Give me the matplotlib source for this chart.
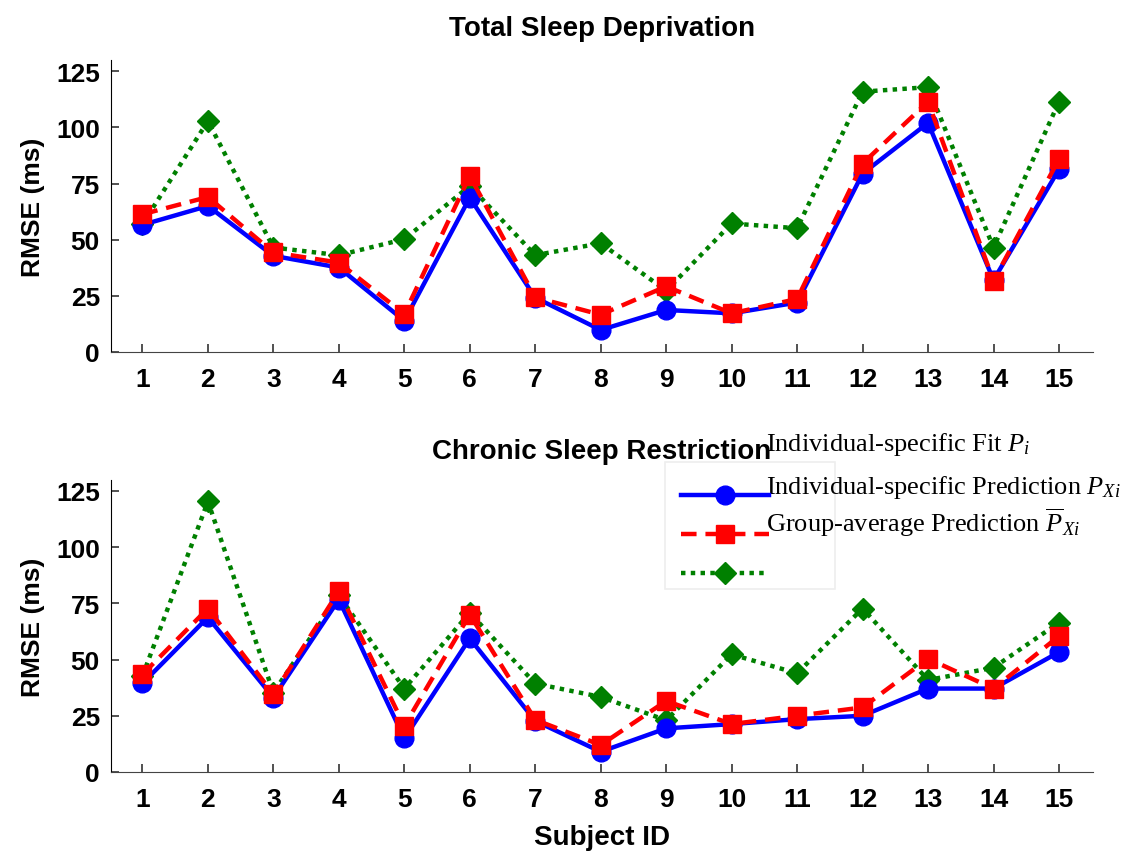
import numpy as np
import matplotlib.pyplot as plt
from matplotlib.patches import Rectangle
from matplotlib.lines import Line2D

plt.rcParams['font.family'] = ['Liberation Sans', 'DejaVu Sans']
plt.rcParams['mathtext.fontset'] = 'custom'
plt.rcParams['mathtext.rm'] = 'Liberation Serif'
plt.rcParams['mathtext.it'] = 'Liberation Serif:italic'

subjects = np.arange(1, 16)

# Total sleep deprivation
tsd_fit = [56.6, 65, 42.8, 37.6, 13.9, 68.7, 24.2, 9.8, 18.7, 17.2, 22, 79.4, 102, 32, 81.3]
tsd_pred = [61.3, 69, 44.3, 39.8, 16.9, 78.4, 24.3, 16.6, 29.2, 17.2, 23.6, 83.9, 111.4, 31.7, 85.8]
tsd_group = [56.9, 102.8, 46.5, 43.1, 50.2, 73.9, 43.1, 48.4, 27.3, 57.2, 55.1, 115.9, 117.9, 46.5, 111.4]

# Chronic sleep restriction
csr_fit = [39.4, 68.8, 33.1, 76.7, 14.9, 59.4, 22.7, 9, 19.4, 21.3, 23.5, 25, 37.1, 37.1, 53.3]
csr_pred = [43.4, 72.7, 34.6, 80.4, 20.5, 70, 23.2, 12, 31.6, 21.3, 25, 28.7, 50.4, 37.1, 60.4]
csr_group = [42.7, 120.3, 35.3, 78.5, 37.1, 70.8, 39.3, 33.4, 23, 52.3, 43.9, 72.7, 40.9, 46.4, 66.4]

yticks = [0, 25, 50, 75, 100, 125]
legend_labels = [r'Individual-specific Fit $P_i$',
                 r'Individual-specific Prediction $P_{Xi}$',
                 r'Group-average Prediction $\overline{P}_{Xi}$']

fit_style = dict(color='blue', linestyle='-', linewidth=3.2, marker='o', markersize=13.5)
pred_style = dict(color='red', linestyle=(0, (3.5, 2)), linewidth=3.2, marker='s', markersize=12.5)
group_style = dict(color='green', linestyle=(0, (1, 1.2)), linewidth=3.2, marker='D', markersize=11)

fig = plt.figure(figsize=(11.26, 8.53), dpi=100)
ax1 = fig.add_axes([0.0986, 0.5862, 0.8721, 0.3423])
ax2 = fig.add_axes([0.0986, 0.0938, 0.8721, 0.3427])

panels = [(ax1, 'Total Sleep Deprivation', tsd_fit, tsd_pred, tsd_group, 18),
          (ax2, 'Chronic Sleep Restriction', csr_fit, csr_pred, csr_group, 15.5)]

for ax, title, fit, pred, group, pad in panels:
    ax.plot(subjects, group, **group_style, zorder=2)
    ax.plot(subjects, pred, **pred_style, zorder=3)
    ax.plot(subjects, fit, **fit_style, zorder=2.5)
    ax.set_xlim(0.52, 15.52)
    ax.set_ylim(0, 130)
    ax.set_xticks(subjects)
    ax.set_yticks(yticks)
    ax.spines['top'].set_visible(False)
    ax.spines['right'].set_visible(False)
    ax.spines['left'].set_color('black')
    ax.spines['bottom'].set_color('#444444')
    ax.tick_params(axis='both', direction='in', length=6, width=1.2, colors='#333333',
                   labelcolor='black', labelsize=19)
    ax.tick_params(axis='x', pad=11)
    ax.tick_params(axis='y', pad=8)
    for lab in ax.get_xticklabels() + ax.get_yticklabels():
        lab.set_fontweight('bold')
    ax.set_ylabel('RMSE (ms)', fontsize=19, fontweight='bold', labelpad=8)
    ax.set_title(title, fontsize=20, fontweight='bold', pad=pad)

ax2.set_xlabel('Subject ID', fontsize=20, fontweight='bold', labelpad=9)

# legend (labels sit one row above their handles, as in the original)
handles = [Line2D([], [], **fit_style), Line2D([], [], **pred_style), Line2D([], [], **group_style)]
ax2.legend(handles, ['', '', ''], loc='upper left', bbox_to_anchor=(0.565, 1.02),
           frameon=False, handlelength=5.3, handletextpad=0, labelspacing=1.45,
           borderpad=0.4, fontsize=12)
ax2.add_patch(Rectangle((0.564, 0.625), 0.173, 0.436, transform=ax2.transAxes,
                        fill=False, edgecolor='#eeeeee', linewidth=1.2, clip_on=False))
text_y = [1.125, 0.977, 0.857]
for lab, ty in zip(legend_labels, text_y):
    ax2.text(0.667, ty, lab, transform=ax2.transAxes, fontsize=19,
             family='Liberation Serif', va='center', ha='left')

fig.savefig('out.png', dpi=100)
